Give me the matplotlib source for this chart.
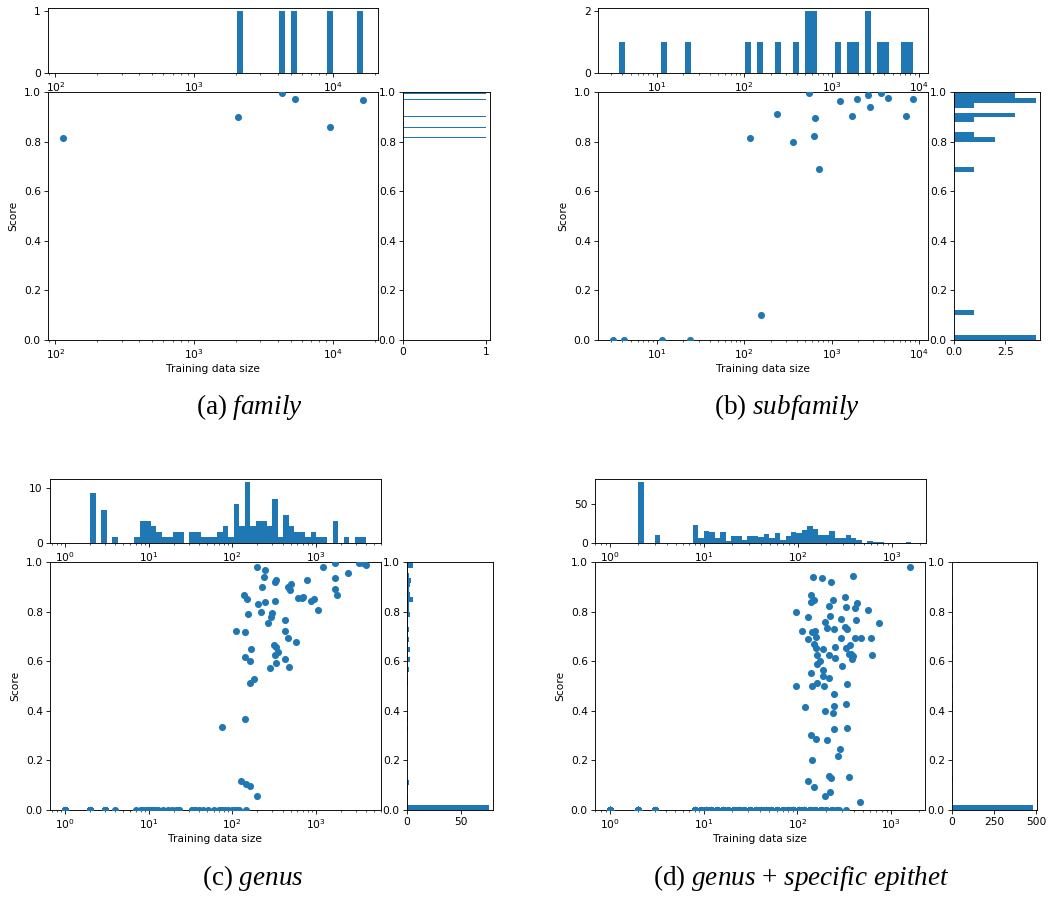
import numpy as np
import matplotlib
matplotlib.use("Agg")
import matplotlib.pyplot as plt

# ---- data ----
# (a) family
family_x = [113.5, 2057, 4295, 5320, 9620, 16520]
family_y = [0.815, 0.899, 0.995, 0.973, 0.857, 0.969]
family_top_range = (113.5, 16520)
family_top_counts = [0, 0, 0, 0, 0, 0, 0, 0, 0, 0,
                     0, 0, 0, 0, 0, 0, 0, 0, 0, 0,
                     0, 0, 0, 0, 0, 0, 0, 0, 0, 1,
                     0, 0, 0, 0, 0, 0, 1, 0, 1, 0,
                     0, 0, 0, 0, 1, 0, 0, 0, 0, 1]

# (b) subfamily
subfamily_x = [3.14, 4.2, 11.5, 23.8, 116, 157, 236, 365, 557, 625, 647, 713,
               1250, 1714, 1938, 2634, 2729, 3680, 4467, 7047, 8551]
subfamily_y = [0.0, 0.0, 0.0, 0.0, 0.815, 0.101, 0.910, 0.800, 0.996, 0.821,
               0.895, 0.691, 0.962, 0.902, 0.972, 0.988, 0.941, 0.997, 0.977,
               0.902, 0.972]
subfamily_top_range = (3.14, 8551)
subfamily_top_counts = [0, 1, 0, 0, 0, 0, 0, 0, 1, 0,
                        0, 0, 1, 0, 0, 0, 0, 0, 0, 0,
                        0, 0, 1, 0, 1, 0, 0, 1, 0, 0,
                        1, 0, 2, 2, 0, 0, 0, 1, 0, 1,
                        1, 0, 2, 0, 1, 1, 0, 0, 1, 1]

# (c) genus
genus_x = [76, 143, 128, 145, 161, 196, 161, 182, 112, 143, 143, 161, 169, 137,
           150, 154, 200, 244, 240, 225, 203, 219, 249, 268, 288, 302, 322, 322,
           337, 281, 316, 337, 353, 322, 331, 425, 425, 466, 425, 479, 466, 497,
           510, 586, 614, 705, 676, 787, 887, 946, 1076, 1236, 1706, 1706, 1706,
           1770, 2399, 3311, 3631, 3981]
genus_y = [0.335, 0.366, 0.118, 0.106, 0.098, 0.055, 0.514, 0.528, 0.720, 0.716,
           0.616, 0.602, 0.649, 0.868, 0.851, 0.791, 0.980, 0.968, 0.941, 0.900,
           0.830, 0.800, 0.837, 0.756, 0.780, 0.794, 0.841, 0.919, 0.929, 0.572,
           0.666, 0.657, 0.639, 0.626, 0.592, 0.767, 0.723, 0.693, 0.610, 0.575,
           0.899, 0.886, 0.912, 0.678, 0.855, 0.859, 0.855, 0.929, 0.844, 0.851,
           0.808, 0.978, 0.997, 0.937, 0.890, 0.868, 0.954, 0.996, 0.996, 0.987]
genus_zero_x = [1, 2, 3, 4, 7, 8, 8.5, 9.5, 10, 11, 12, 13, 15, 17, 19, 21, 23,
                33, 36, 40, 45, 52, 60, 70, 75, 82, 88, 100, 108, 115, 122, 145]
genus_zero_n = [18, 9, 6, 1, 1, 2, 2, 2, 2, 3, 2, 1, 1, 1, 1, 1, 2,
                2, 2, 1, 1, 1, 1, 1, 2, 1, 1, 1, 3, 2, 1, 1]
genus_top_range = (2, 3981)
genus_top_counts = [9, 0, 6, 0, 1, 0, 0, 0, 1, 4,
                    4, 3, 2, 1, 1, 2, 2, 0, 2, 2,
                    1, 1, 1, 2, 3, 1, 7, 3, 11, 3,
                    4, 4, 3, 8, 1, 5, 3, 2, 2, 1,
                    2, 1, 1, 0, 4, 0, 1, 0, 1, 1]

# (d) genus + specific epithet
species_x = [1596, 97.5, 96.8, 113, 129, 131, 121, 130, 140, 141, 152, 148, 142,
             154, 160, 152, 158, 161, 162, 173, 141, 143, 163, 141, 160, 143, 149,
             182, 231, 216, 240, 225, 197, 207, 246, 190, 218, 250, 253, 187, 187,
             194, 218, 246, 246, 242, 197, 246, 209, 288, 274, 218, 227, 197, 223,
             320, 328, 290, 320, 342, 293, 333, 362, 357, 297, 339, 331, 342, 353,
             393, 437, 409, 426, 409, 474, 371, 393, 387, 467, 564, 617, 631, 750]
species_y = [0.980, 0.800, 0.500, 0.721, 0.780, 0.688, 0.417, 0.118, 0.868, 0.838,
             0.845, 0.941, 0.716, 0.723, 0.698, 0.669, 0.655, 0.626, 0.588, 0.599,
             0.552, 0.500, 0.511, 0.301, 0.287, 0.202, 0.092, 0.937, 0.919, 0.824,
             0.845, 0.783, 0.760, 0.733, 0.731, 0.649, 0.623, 0.657, 0.612, 0.563,
             0.542, 0.501, 0.534, 0.467, 0.420, 0.393, 0.401, 0.326, 0.281, 0.246,
             0.219, 0.139, 0.131, 0.058, 0.071, 0.859, 0.817, 0.770, 0.738, 0.731,
             0.694, 0.653, 0.666, 0.629, 0.579, 0.507, 0.428, 0.330, 0.133, 0.942,
             0.833, 0.814, 0.766, 0.693, 0.694, 0.630, 0.622, 0.610, 0.034, 0.808,
             0.693, 0.626, 0.754]
species_zero_x = [1, 2, 3, 8, 9.3, 10.5, 12, 14, 16, 18, 21, 24, 27, 31, 36, 41,
                  46, 53, 61, 70, 80, 91, 104, 119, 136, 155, 178, 203, 232, 265,
                  280, 333]
species_zero_n = [139, 79, 10, 23, 7, 16, 14, 7, 14, 3, 9, 9, 4, 9, 9, 8,
                  12, 7, 13, 4, 9, 13, 12, 15, 11, 7, 7, 3, 4, 3, 1, 1]
species_top_range = (2, 1596)
species_top_counts = [79, 0, 0, 10, 0, 0, 0, 0, 0, 0,
                      23, 7, 16, 14, 7, 14, 3, 9, 9, 4,
                      9, 9, 8, 12, 7, 13, 4, 9, 14, 13,
                      17, 22, 18, 11, 11, 16, 6, 7, 11, 6,
                      4, 0, 2, 1, 1, 0, 0, 0, 0, 1]

# ---- figure ----
W, H = 1051, 897
C0 = "#1f77b4"
plt.rcParams.update({
    "font.size": 7.7,
    "xtick.major.size": 2.7, "ytick.major.size": 2.7,
    "xtick.minor.size": 1.6, "ytick.minor.size": 1.6,
    "xtick.major.width": 0.6, "ytick.major.width": 0.6,
    "xtick.minor.width": 0.45, "ytick.minor.width": 0.45,
    "xtick.major.pad": 2.5, "ytick.major.pad": 2.5,
    "axes.linewidth": 0.65,
    "mathtext.fontset": "custom",
    "mathtext.rm": "Liberation Serif",
    "mathtext.it": "Liberation Serif:italic",
})

fig = plt.figure(figsize=(W / 100, H / 100), dpi=100)


def box(l, t, r, b):
    return [l / W, 1 - b / H, (r - l) / W, (b - t) / H]


def panel(main, top, right, x, y, top_counts, top_range, top_yticks,
          right_xticks, caption, cap_xy):
    ax = fig.add_axes(box(*main))
    ax.scatter(x, y, s=26, color=C0, linewidths=0, zorder=3)
    ax.set_xscale("log")
    ax.set_ylim(0, 1)
    ax.set_xlabel("Training data size", labelpad=2)
    ax.set_ylabel("Score", labelpad=4)

    edges = np.logspace(np.log10(top_range[0]), np.log10(top_range[1]),
                        len(top_counts) + 1)
    axt = fig.add_axes(box(*top))
    axt.set_xscale("log")
    axt.hist(edges[:-1], bins=edges, weights=top_counts, color=C0)
    axt.set_xlim(ax.get_xlim())
    axt.set_yticks(top_yticks)

    axr = fig.add_axes(box(*right))
    axr.hist(y, bins=50, orientation="horizontal", color=C0)
    axr.set_ylim(0, 1)
    axr.set_xticks(right_xticks)

    fig.text(cap_xy[0] / W, 1 - cap_xy[1] / H, caption, ha="center",
             va="center", fontsize=19.5, family="Liberation Serif")


def with_zeros(x, y, zx, zn):
    xs = list(x) + list(np.repeat(zx, zn))
    ys = list(y) + [0.0] * int(sum(zn))
    return xs, ys


panel((48, 92, 378, 340), (48, 8, 378, 73), (403, 92, 490, 340),
      family_x, family_y, family_top_counts, family_top_range, [0, 1], [0, 1],
      r"(a) $\mathit{family}$", (249, 407))

panel((598, 92, 928, 340), (598, 8, 928, 73), (954, 92, 1040, 340),
      subfamily_x, subfamily_y, subfamily_top_counts, subfamily_top_range,
      [0, 2], [0, 2.5], r"(b) $\mathit{subfamily}$", (787, 407))

gx, gy = with_zeros(genus_x, genus_y, genus_zero_x, genus_zero_n)
panel((50, 562, 381, 810), (50, 479, 381, 543), (407, 562, 493, 810),
      gx, gy, genus_top_counts, genus_top_range, [0, 10], [0, 50],
      r"(c) $\mathit{genus}$", (253, 878))

sx, sy = with_zeros(species_x, species_y, species_zero_x, species_zero_n)
panel((595, 562, 925, 810), (595, 479, 926, 543), (952, 562, 1037, 810),
      sx, sy, species_top_counts, species_top_range, [0, 50], [0, 250, 500],
      r"(d) $\mathit{genus}$ + $\mathit{specific}$ $\mathit{epithet}$",
      (801, 878))

fig.savefig("out.png", dpi=100)
